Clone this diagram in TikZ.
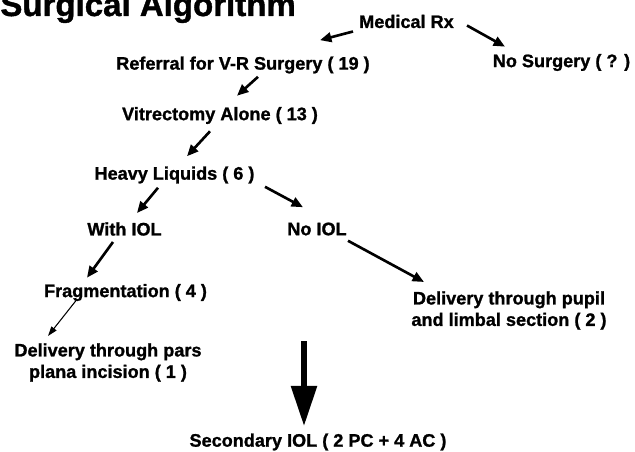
\documentclass[tikz,border=0pt]{standalone}
\usepackage{fontspec}
\setmainfont{Liberation Sans}[BoldFeatures={FakeBold=1.2}]
\usetikzlibrary{arrows.meta, positioning, calc}

\begin{document}
\begin{tikzpicture}[
        x=0.02cm, y=0.02cm,
        item/.style={
            inner sep=0pt,
            align=center,
            font=\fontsize{10.3}{12.2}\selectfont\bfseries
        },
        heading/.style={
            inner sep=0pt,
            anchor=base west,
            font=\fontsize{18.8}{22}\selectfont\bfseries
        },
        link/.style={
            line width=1.5pt,
            -{Triangle[length=6.5pt, width=5.5pt]}
        },
        thinlink/.style={
            line width=0.6pt,
            -{Triangle[length=5.5pt, width=3.6pt]}
        },
        bigarrow/.style={
            line width=3.4pt,
            -{Triangle[length=23pt, width=14.2pt]}
        }
    ]

    % Frame of the slide (the title runs off the top edge)
    \clip (0,0) rectangle (635,-452);

    \node[heading] (title) at (0,-16) {Surgical Algorithm};

    % Decision tree
    \node[item] (medical) at (406.5,-21.5) {Medical Rx};
    \node[item] (referral) at (243,-65) {Referral for V-R Surgery ( 19 )};
    \node[item] (nosurgery) at (561.5,-62.5) {No Surgery ( ? )};
    \node[item] (vitrectomy) at (220,-115.5) {Vitrectomy Alone ( 13 )};
    \node[item] (heavy) at (174.5,-175) {Heavy Liquids ( 6 )};
    \node[item] (withiol) at (124.5,-229) {With IOL};
    \node[item] (noiol) at (317,-229) {No IOL};
    \node[item] (fragment) at (125.5,-292.5) {Fragmentation ( 4 )};
    \node[item] (pupil) at (509,-310.5) {Delivery through pupil\\and limbal section ( 2 )};
    \node[item] (parsplana) at (108,-362.5) {Delivery through pars\\plana incision ( 1 )};
    \node[item] (secondary) at (318,-442) {Secondary IOL ( 2 PC + 4 AC )};

    % ------------------------------------------------------------------
    % Arrows sit in the gaps between the labels
    % ------------------------------------------------------------------
    \draw[link] ($(medical.south)+(-53.5,-3)$) -- ($(referral.north)+(77,16)$);
    \draw[link] ($(medical.south)+(60.5,3)$) -- ($(nosurgery.north)+(-56.5,7)$);
    \draw[link] ($(referral.south)+(15,-3)$) -- ($(vitrectomy.north)+(17,11)$);
    \draw[link] ($(vitrectomy.south)+(-10,-7)$) -- ($(heavy.north)+(12.5,10)$);
    \draw[link] ($(heavy.south)+(-16.5,-4)$) -- ($(withiol.north)+(12.5,9)$);
    \draw[link] ($(heavy.south)+(90.5,-3)$) -- ($(noiol.north)+(-14,15)$);
    \draw[link] ($(withiol.south)+(-11.5,-6)$) -- ($(fragment.north)+(-38.5,6)$);
    \draw[link] ($(noiol.south)+(31,-5)$) -- ($(pupil.north)+(-85,9)$);
    \draw[thinlink] ($(fragment.south)+(-48.5,2)$) -- ($(parsplana.north)+(-60,7)$);

    % Big arrow down to the secondary lens
    \coordinate (bigtop) at ($(secondary.north)+(-14,92)$);
    \draw[bigarrow] (bigtop) -- ($(secondary.north)+(-14,7)$);

\end{tikzpicture}
\end{document}
